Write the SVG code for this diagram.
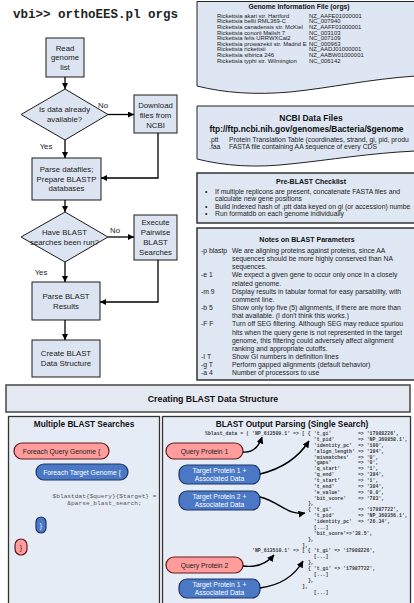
<svg xmlns="http://www.w3.org/2000/svg" width="414" height="603" viewBox="0 0 414 603">
<defs>
<marker id="ah" markerWidth="6" markerHeight="6" refX="6" refY="3" orient="auto" markerUnits="userSpaceOnUse"><path d="M0,0 L6,3 L0,6 z" fill="#000"/></marker>
<marker id="ah2" markerWidth="7" markerHeight="7" refX="6.5" refY="3.5" orient="auto" markerUnits="userSpaceOnUse"><path d="M0,0 L7,3.5 L0,7 z" fill="#000"/></marker>
<style>
.box{fill:#dbe4f0;stroke:#1a1a1a;stroke-width:1}
.ft{font-family:"Liberation Sans",Arial,sans-serif;font-size:7.8px;fill:#222;text-anchor:middle}
.conn{stroke:#000;stroke-width:1.3;fill:none;marker-end:url(#ah)}
.curve{stroke:#000;stroke-width:1.4;fill:none;marker-end:url(#ah2)}
.panel{fill:#dde6f2;stroke:#222;stroke-width:1}
.panel2{fill:#dfe7f2;stroke:#333;stroke-width:1.5}
.bpanel{fill:#e6ecf6;stroke:#333;stroke-width:1.3}
.hdr{fill:#e4e9f1;stroke:#444;stroke-width:1.5}
.t{font-family:"Liberation Sans",Arial,sans-serif;fill:#222}
.tb{font-family:"Liberation Sans",Arial,sans-serif;font-weight:bold;fill:#111;text-anchor:middle}
.gi{font-size:5.9px}
.nb{font-size:6.8px}
.pink{fill:#ff9c9c;stroke:#5e1a1a;stroke-width:1.2}
.blue{fill:#4a78c4;stroke:#1c3566;stroke-width:1.2}
.pk{font-family:"Liberation Sans",Arial,sans-serif;font-size:6.8px;fill:#222;text-anchor:middle}
.bl{font-family:"Liberation Sans",Arial,sans-serif;font-size:6.8px;fill:#fff;text-anchor:middle}
.m{font-family:"Liberation Mono","Courier New",monospace;font-size:4.9px;font-weight:bold;fill:#3a3a3a}
.m2{font-family:"Liberation Mono","Courier New",monospace;font-size:6.2px;fill:#555;text-anchor:middle}
</style>
</defs>

<text x="13" y="18" style="font-family:'Liberation Mono','Courier New',monospace;font-weight:bold;font-size:12.5px;fill:#222">vbi&gt;&gt; orthoEES.pl orgs</text>

<g id="read-genome">
<rect class="box" x="46" y="38" width="38" height="39"/>
<text class="ft" x="65" y="50.8">Read</text>
<text class="ft" x="65" y="60.3">genome</text>
<text class="ft" x="65" y="69.8">list</text>
</g>
<g id="data-available">
<polygon class="box" points="65,89 108,114.5 65,140 21,114.5"/>
<text class="ft" x="64.5" y="111.8">Is data already</text>
<text class="ft" x="64.5" y="121.8">available?</text>
</g>
<g id="download">
<rect class="box" x="134" y="95" width="43" height="38"/>
<text class="ft" x="155.5" y="107.8">Download</text>
<text class="ft" x="155.5" y="117.8">files from</text>
<text class="ft" x="155.5" y="127.8">NCBI</text>
</g>
<g id="parse-datafiles">
<rect class="box" x="32" y="158" width="69" height="42"/>
<text class="ft" x="66.5" y="172.3">Parse datafiles;</text>
<text class="ft" x="66.5" y="181.8">Prepare BLASTP</text>
<text class="ft" x="66.5" y="191.3">databases</text>
</g>
<g id="blast-run">
<polygon class="box" points="65,212 108,237 65,262 21,237"/>
<text class="ft" x="64.5" y="234.8">Have BLAST</text>
<text class="ft" x="64.5" y="244.8">searches been run?</text>
</g>
<g id="execute">
<rect class="box" x="134" y="215" width="43" height="45"/>
<text class="ft" x="155.5" y="225.3">Execute</text>
<text class="ft" x="155.5" y="235.3">Pairwise</text>
<text class="ft" x="155.5" y="245.3">BLAST</text>
<text class="ft" x="155.5" y="255.3">Searches</text>
</g>
<g id="parse-blast">
<rect class="box" x="32" y="282" width="68" height="38"/>
<text class="ft" x="66" y="298.8">Parse BLAST</text>
<text class="ft" x="66" y="308.8">Results</text>
</g>
<g id="create-structure">
<rect class="box" x="32" y="340" width="68" height="37"/>
<text class="ft" x="66" y="356.3">Create BLAST</text>
<text class="ft" x="66" y="366.3">Data Structure</text>
</g>

<g id="connectors">
<path class="conn" d="M65,77 V89"/>
<path class="conn" d="M108,114.5 H134"/>
<path class="conn" d="M158,133 V178 H101"/>
<path class="conn" d="M65,140 V158"/>
<path class="conn" d="M65,200 V212"/>
<path class="conn" d="M108,237 H134"/>
<path class="conn" d="M158,260 V302 H100"/>
<path class="conn" d="M65,262 V282"/>
<path class="conn" d="M65,320 V340"/>
<text class="ft" x="103" y="107.8">No</text>
<text class="ft" x="46" y="148.8">Yes</text>
<text class="ft" x="115" y="232.8">No</text>
<text class="ft" x="41" y="274.8">Yes</text>
</g>

<g id="genome-info">
<path class="panel" d="M197,1.5 L416,1.5 L416,76 C370,79 330,88 290,92 C255,95 225,93 197,86 Z"/>
<text class="tb" x="299" y="9" style="font-size:6.8px">Genome Information File (orgs)</text>
<g class="t gi">
<text x="217" y="17.8">Rickettsia akari str. Hartford</text><text x="309" y="17.8">NZ_AAFE01000001</text>
<text x="217" y="23.4">Rickettsia bellii RML369-C</text><text x="309" y="23.4">NC_007940</text>
<text x="217" y="29">Rickettsia canadensis str. McKiel</text><text x="309" y="29">NZ_AAFF01000001</text>
<text x="217" y="34.6">Rickettsia conorii Malish 7</text><text x="309" y="34.6">NC_003103</text>
<text x="217" y="40.2">Rickettsia felis URRWXCal2</text><text x="309" y="40.2">NC_007109</text>
<text x="217" y="45.8">Rickettsia prowazekii str. Madrid E</text><text x="309" y="45.8">NC_000963</text>
<text x="217" y="51.4">Rickettsia rickettsii</text><text x="309" y="51.4">NZ_AADJ01000001</text>
<text x="217" y="57">Rickettsia sibirica 246</text><text x="309" y="57">NZ_AABW01000001</text>
<text x="217" y="62.6">Rickettsia typhi str. Wilmington</text><text x="309" y="62.6">NC_006142</text>
</g>
</g>

<g id="ncbi-files">
<path class="panel" d="M197,106 L416,106 L416,151 C370,153 330,160 290,164 C255,168 225,166 197,159 Z"/>
<text class="tb" x="311" y="121" style="font-size:8.5px">NCBI Data Files</text>
<text class="tb" x="306.5" y="132" style="font-size:8.4px">ftp://ftp.ncbi.nih.gov/genomes/Bacteria/$genome</text>
<g class="t nb">
<text x="209" y="141.5">.ptt</text><text x="229" y="141.5">Protein Translation Table (coordinates, strand, gi, pid, produ</text>
<text x="209" y="148.5">.faa</text><text x="229" y="148.5">FASTA file containing AA sequence of every CDS</text>
</g>
</g>

<g id="pre-blast">
<rect class="panel2" x="197" y="173" width="222" height="50"/>
<text class="tb" x="311" y="183.5" style="font-size:7px">Pre-BLAST Checklist</text>
<g class="t nb">
<text x="205" y="193.9">•</text><text x="215" y="193.9">If multiple replicons are present, concatenate FASTA files and</text>
<text x="215" y="201.4">calculate new gene positions</text>
<text x="205" y="208.9">•</text><text x="215" y="208.9">Build indexed hash of .ptt data keyed on gi (or accession) numbe</text>
<text x="205" y="216.4">•</text><text x="215" y="216.4">Run formatdb on each genome individually</text>
</g>
</g>

<g id="blast-notes">
<rect class="panel2" x="197" y="228" width="222" height="152"/>
<text class="tb" x="307" y="242" style="font-size:7px">Notes on BLAST Parameters</text>
<g class="t nb">
<text x="201" y="252.9">-p blastp</text><text x="232" y="252.9">We are aligning proteins against proteins, since AA</text>
<text x="232" y="261.1">sequences should be more highly conserved than NA</text>
<text x="232" y="269.2">sequences.</text>
<text x="201" y="277.4">-e 1</text><text x="232" y="277.4">We expect a given gene to occur only once in a closely</text>
<text x="232" y="285.6">related genome.</text>
<text x="201" y="293.8">-m 9</text><text x="232" y="293.8">Display results in tabular format for easy parsability, with</text>
<text x="232" y="301.9">comment line.</text>
<text x="201" y="310.1">-b 5</text><text x="232" y="310.1">Show only top five (5) alignments, if there are more than</text>
<text x="232" y="318.3">that available. (I don't think this works.)</text>
<text x="201" y="326.4">-F F</text><text x="232" y="326.4">Turn off SEG filtering.  Although SEG may reduce spuriou</text>
<text x="232" y="334.6">hits when the query gene is not represented in the target</text>
<text x="232" y="342.8">genome, this filtering could adversely affect alignment</text>
<text x="232" y="350.9">ranking and appropriate cutoffs.</text>
<text x="201" y="359.1">-I T</text><text x="232" y="359.1">Show GI numbers in definition lines</text>
<text x="201" y="367.3">-g T</text><text x="232" y="367.3">Perform gapped alignments (default behavior)</text>
<text x="201" y="375.4">-a 4</text><text x="232" y="375.4">Number of processors to use</text>
</g>
</g>

<g id="creating-header">
<rect class="hdr" x="6" y="385" width="404" height="27"/>
<text class="tb" x="213" y="401.5" style="font-size:8.8px">Creating BLAST Data Structure</text>
</g>

<g id="multiple-searches">
<rect class="bpanel" x="8.5" y="416.5" width="151" height="192"/>
<text class="tb" x="84" y="426.5" style="font-size:8.3px">Multiple BLAST Searches</text>
<rect class="pink" x="14" y="443" width="95" height="16" rx="8"/>
<text class="pk" x="61.5" y="453.5">Foreach Query Genome {</text>
<rect class="blue" x="36" y="464" width="92" height="16" rx="8"/>
<text class="bl" x="82" y="474.5">Foreach Target Genome {</text>
<text class="m2" x="104.5" y="498">$blastdat{$query}{$target} =</text>
<text class="m2" x="104.5" y="505">&amp;parse_blast_search;</text>
<rect class="blue" x="36" y="517" width="10" height="16" rx="5"/>
<text class="bl" x="41" y="527.5">}</text>
<rect class="pink" x="15" y="539" width="12" height="16" rx="6"/>
<text class="pk" x="21" y="549.5">}</text>
</g>

<g id="output-parsing">
<rect class="bpanel" x="162.5" y="416.5" width="248" height="192"/>
<text class="tb" x="292" y="426.5" style="font-size:8.3px">BLAST Output Parsing (Single Search)</text>
<g class="m">
<text x="205" y="435">%blast_data = ( 'NP_613509.1' =&gt; [ {</text>
<text x="313.8" y="435">'t_gi'</text><text x="357.9" y="435">=&gt;</text><text x="366.7" y="435">'17988226',</text>
<text x="313.8" y="440.9">'t_pid'</text><text x="357.9" y="440.9">=&gt;</text><text x="366.7" y="440.9">'NP_360858.1',</text>
<text x="313.8" y="446.7">'identity_pc'</text><text x="357.9" y="446.7">=&gt;</text><text x="366.7" y="446.7">'100',</text>
<text x="313.8" y="452.6">'align_length'</text><text x="357.9" y="452.6">=&gt;</text><text x="366.7" y="452.6">'384',</text>
<text x="313.8" y="458.5">'mismatches'</text><text x="357.9" y="458.5">=&gt;</text><text x="366.7" y="458.5">'0',</text>
<text x="313.8" y="464.4">'gaps'</text><text x="357.9" y="464.4">=&gt;</text><text x="366.7" y="464.4">'0',</text>
<text x="313.8" y="470.2">'q_start'</text><text x="357.9" y="470.2">=&gt;</text><text x="366.7" y="470.2">'1',</text>
<text x="313.8" y="476.1">'q_end'</text><text x="357.9" y="476.1">=&gt;</text><text x="366.7" y="476.1">'384',</text>
<text x="313.8" y="482">'t_start'</text><text x="357.9" y="482">=&gt;</text><text x="366.7" y="482">'1',</text>
<text x="313.8" y="487.8">'t_end'</text><text x="357.9" y="487.8">=&gt;</text><text x="366.7" y="487.8">'384',</text>
<text x="313.8" y="493.7">'e_value'</text><text x="357.9" y="493.7">=&gt;</text><text x="366.7" y="493.7">'0.0',</text>
<text x="313.8" y="499.6">'bit_score'</text><text x="357.9" y="499.6">=&gt;</text><text x="366.7" y="499.6">'783',</text>
<text x="307.9" y="505.4">},</text>
<text x="307.9" y="511.3">{</text><text x="313.8" y="511.3">'t_gi'</text><text x="357.9" y="511.3">=&gt;</text><text x="366.7" y="511.3">'17987722',</text>
<text x="313.8" y="517.2">'t_pid'</text><text x="357.9" y="517.2">=&gt;</text><text x="366.7" y="517.2">'NP_360356.1',</text>
<text x="313.8" y="523">'identity_pc'</text><text x="357.9" y="523">=&gt;</text><text x="366.7" y="523">'26.34',</text>
<text x="313.8" y="528.9">[...]</text>
<text x="313.8" y="534.8">'bit_score'=&gt;'38.5',</text>
<text x="307.9" y="540.7">},</text>
<text x="302" y="546.5">],</text>
<text x="252" y="552.4">'NP_613510.1' =&gt; [ { 't_gi' =&gt; '17988226',</text>
<text x="313.8" y="558.3">[...]</text>
<text x="307.9" y="564.1">},</text>
<text x="307.9" y="570">{ 't_gi' =&gt; '17987722',</text>
<text x="313.8" y="575.9">[...]</text>
<text x="307.9" y="581.7">},</text>
<text x="302" y="587.6">],</text>
<text x="313.8" y="593.5">[...]</text>
</g>
<rect class="pink" x="166" y="443" width="77" height="16" rx="8"/>
<text class="pk" x="204.5" y="453.5">Query Protein 1</text>
<rect class="blue" x="179" y="465" width="81" height="19" rx="8"/>
<text class="bl" x="219.5" y="473">Target Protein 1 +</text>
<text class="bl" x="219.5" y="481">Associated Data</text>
<rect class="blue" x="179" y="491" width="81" height="19" rx="8"/>
<text class="bl" x="219.5" y="499">Target Protein 2 +</text>
<text class="bl" x="219.5" y="507">Associated Data</text>
<rect class="pink" x="166" y="557" width="77" height="16" rx="8"/>
<text class="pk" x="204.5" y="567.5">Query Protein 2</text>
<rect class="blue" x="179" y="579" width="81" height="19" rx="8"/>
<text class="bl" x="219.5" y="587">Target Protein 1 +</text>
<text class="bl" x="219.5" y="595">Associated Data</text>
</g>

<g id="parsing-connectors">
<path class="curve" d="M243,452 C254,453 259,446 262,437"/>
<path class="curve" d="M260,474 C285,468 300,455 309,441"/>
<path class="curve" d="M260,497 C280,502 288,516 305,513"/>
<path class="curve" d="M243,566 C258,568 268,562 274,555"/>
<path class="curve" d="M260,588 C282,585 295,575 303,561"/>
</g>
</svg>
